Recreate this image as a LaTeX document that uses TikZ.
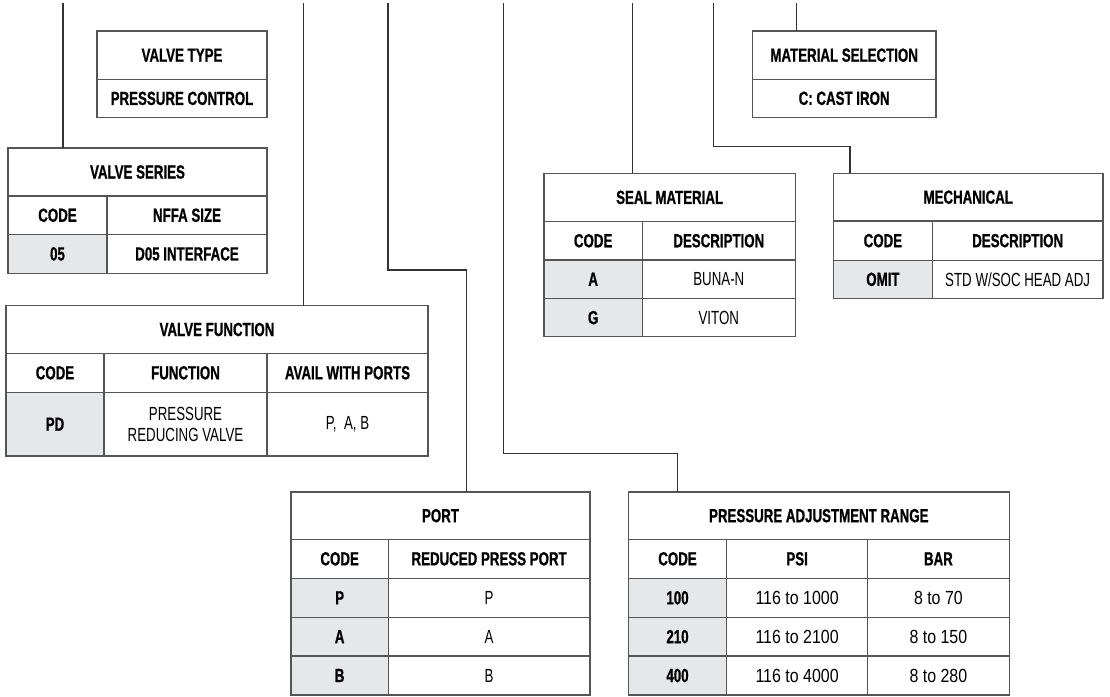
\documentclass[tikz,border=0pt]{standalone}
\usepackage{fontspec}
\setmainfont{Liberation Sans}[FakeStretch=0.70, BoldFeatures={FakeBold=0.8}]
\newfontfamily\numfont{Liberation Sans}[FakeStretch=0.84]
\definecolor{bordercol}{HTML}{555555}
\definecolor{linkcol}{HTML}{333333}
\definecolor{codefill}{HTML}{E6E7E8}
\newcommand\mycell[7]{\node[cellbase,#6,minimum width=#4pt,minimum height=#5pt,anchor=north west] (#1) at (#2,#3) {#7};}
\begin{document}
\begin{tikzpicture}[x=1pt,y=-1pt,
  cellbase/.style={draw=bordercol,line width=1.3pt,inner sep=0pt,outer sep=0pt,align=center,font=\fontsize{19}{21}\selectfont},
  hd/.style={font=\fontsize{19}{21}\selectfont\bfseries},
  rg/.style={font=\fontsize{19}{21}\selectfont},
  num/.style={font=\fontsize{19}{21}\selectfont\numfont},
  codecell/.style={fill=codefill,font=\fontsize{19}{21}\selectfont\bfseries},
  link/.style={draw=linkcol,line width=1.2pt}]
\useasboundingbox[fill=white] (0,0) rectangle (1110,696);

% VALVE TYPE
\mycell{vtA}{97}{31}{170}{48.3}{hd}{VALVE TYPE}
\mycell{vtB}{97}{79.3}{170}{38.2}{hd}{PRESSURE CONTROL}

% VALVE SERIES
\mycell{vsA}{8}{148}{259}{48}{hd}{VALVE SERIES}
\mycell{vsB}{8}{196}{99}{38.5}{hd}{CODE}
\mycell{vsC}{107}{196}{160}{38.5}{hd}{NFFA SIZE}
\mycell{vsD}{8}{234.5}{99}{38.8}{codecell}{05}
\mycell{vsE}{107}{234.5}{160}{38.8}{hd}{D05 INTERFACE}

% VALVE FUNCTION
\mycell{vfA}{6}{305.7}{422}{47.6}{hd}{VALVE FUNCTION}
\mycell{vfB}{6}{353.3}{98}{39}{hd}{CODE}
\mycell{vfC}{104}{353.3}{163}{39}{hd}{FUNCTION}
\mycell{vfD}{267}{353.3}{161}{39}{hd}{AVAIL WITH PORTS}
\mycell{vfE}{6}{392.3}{98}{63.7}{codecell}{PD}
\mycell{vfF}{104}{392.3}{163}{63.7}{rg}{PRESSURE\\REDUCING VALVE}
\mycell{vfG}{267}{392.3}{161}{63.7}{rg}{P,\ \ A, B}

% PORT
\mycell{ptA}{291}{492}{299}{47.3}{hd}{PORT}
\mycell{ptB}{291}{539.3}{97.3}{39}{hd}{CODE}
\mycell{ptC}{388.3}{539.3}{201.7}{39}{hd}{REDUCED PRESS PORT}
\mycell{ptD}{291}{578.3}{97.3}{39}{codecell}{P}
\mycell{ptE}{388.3}{578.3}{201.7}{39}{rg}{P}
\mycell{ptF}{291}{617.3}{97.3}{38.7}{codecell}{A}
\mycell{ptG}{388.3}{617.3}{201.7}{38.7}{rg}{A}
\mycell{ptH}{291}{656}{97.3}{39}{codecell}{B}
\mycell{ptI}{388.3}{656}{201.7}{39}{rg}{B}

% PRESSURE ADJUSTMENT RANGE
\mycell{prA}{628.3}{492}{381}{47.3}{hd}{PRESSURE ADJUSTMENT RANGE}
\mycell{prB}{628.3}{539.3}{98.4}{39}{hd}{CODE}
\mycell{prC}{726.7}{539.3}{140.8}{39}{hd}{PSI}
\mycell{prD}{867.5}{539.3}{141.8}{39}{hd}{BAR}
\mycell{prE}{628.3}{578.3}{98.4}{39}{codecell}{100}
\mycell{prF}{726.7}{578.3}{140.8}{39}{num}{116 to 1000}
\mycell{prG}{867.5}{578.3}{141.8}{39}{num}{8 to 70}
\mycell{prH}{628.3}{617.3}{98.4}{38.7}{codecell}{210}
\mycell{prI}{726.7}{617.3}{140.8}{38.7}{num}{116 to 2100}
\mycell{prJ}{867.5}{617.3}{141.8}{38.7}{num}{8 to 150}
\mycell{prK}{628.3}{656}{98.4}{39}{codecell}{400}
\mycell{prL}{726.7}{656}{140.8}{39}{num}{116 to 4000}
\mycell{prM}{867.5}{656}{141.8}{39}{num}{8 to 280}

% SEAL MATERIAL
\mycell{smA}{544}{173.3}{251.3}{48.2}{hd}{SEAL MATERIAL}
\mycell{smB}{544}{221.5}{98.3}{38.5}{hd}{CODE}
\mycell{smC}{642.3}{221.5}{153}{38.5}{hd}{DESCRIPTION}
\mycell{smD}{544}{260}{98.3}{38.5}{codecell}{A}
\mycell{smE}{642.3}{260}{153}{38.5}{rg}{BUNA-N}
\mycell{smF}{544}{298.5}{98.3}{38.2}{codecell}{G}
\mycell{smG}{642.3}{298.5}{153}{38.2}{rg}{VITON}

% MECHANICAL
\mycell{meA}{833.5}{173.3}{269.5}{47.7}{hd}{MECHANICAL}
\mycell{meB}{833.5}{221}{98.8}{39.3}{hd}{CODE}
\mycell{meC}{932.3}{221}{170.7}{39.3}{hd}{DESCRIPTION}
\mycell{meD}{833.5}{260.3}{98.8}{38}{codecell}{OMIT}
\mycell{meE}{932.3}{260.3}{170.7}{38}{rg}{STD W/SOC HEAD ADJ}

% MATERIAL SELECTION
\mycell{msA}{752.3}{31}{183.7}{48.3}{hd}{MATERIAL SELECTION}
\mycell{msB}{752.3}{79.3}{183.7}{38}{hd}{C: CAST IRON}

% connectors
\coordinate (t1) at (63,3);
\coordinate (t2) at (303.3,3);
\coordinate (t3) at (388,3);
\coordinate (b3) at (466.7,270);
\coordinate (t4) at (503.3,3);
\coordinate (b4) at (677.3,453.3);
\coordinate (t5) at (632.7,3);
\coordinate (t6) at (713.3,3);
\coordinate (b6) at (850,146.7);
\coordinate (t7) at (796.7,3);

\draw[link] (t1) -- (t1 |- vsA.north);
\draw[link] (t2) -- (t2 |- vfA.north);
\draw[link] (t3) |- (b3) -- (b3 |- ptA.north);
\draw[link] (t4) |- (b4) -- (b4 |- prA.north);
\draw[link] (t5) -- (t5 |- smA.north);
\draw[link] (t6) |- (b6) -- (b6 |- meA.north);
\draw[link] (t7) -- (t7 |- msA.north);
\end{tikzpicture}
\end{document}
